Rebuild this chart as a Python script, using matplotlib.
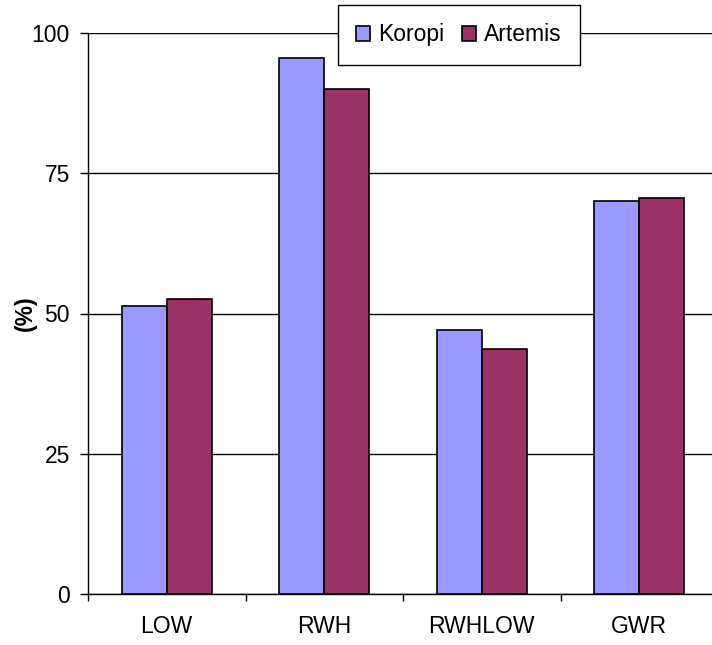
import matplotlib
matplotlib.use('Agg')
import numpy as np
from matplotlib import pyplot as plt

plt.rcParams['font.family'] = ['Liberation Sans', 'DejaVu Sans']

"""Data
"""
categories = ['LOW', 'RWH', 'RWHLOW', 'GWR']
koropi = [51.4, 95.6, 47.0, 70.1]
artemis = [52.5, 90.0, 43.6, 70.6]
y_ticks = [0, 25, 50, 75, 100]

FS = 16.5

"""Plot
"""
f = plt.figure(figsize=(7.12, 6.45), dpi=100)
ax = f.add_axes([88/712, 1 - 594/645, 630/712, 561/645])

x = np.arange(len(categories))
w = 0.286
ax.bar(x - w/2, koropi, w, color='#9999FF', edgecolor='black', linewidth=1.2,
       label='Koropi', zorder=3)
ax.bar(x + w/2, artemis, w, color='#993366', edgecolor='black', linewidth=1.2,
       label='Artemis', zorder=3)

ax.set_xlim(-0.5, len(categories) - 0.5)
ax.set_ylim(0, 100)
ax.set_yticks(y_ticks)
ax.yaxis.grid(True, color='black', linewidth=1)
ax.set_axisbelow(True)

# category boundaries get the ticks, names sit in between
ax.set_xticks(np.arange(len(categories)) - 0.5)
ax.set_xticklabels([])
ax.set_xticks(x, minor=True)
ax.set_xticklabels(categories, minor=True)
ax.tick_params(axis='x', which='minor', length=0, pad=15, labelsize=FS)
ax.tick_params(axis='x', which='major', length=5, width=1, direction='out')
ax.tick_params(axis='y', length=6, width=1, direction='out', labelsize=FS, pad=7)

for s in ['top', 'right']:
    ax.spines[s].set_visible(False)
ax.spines['left'].set_linewidth(1)
ax.spines['bottom'].set_linewidth(1)

ax.set_ylabel('(%)', fontsize=FS, fontweight='bold', va='center')
ax.yaxis.set_label_coords(-0.1, 0.5)

leg = f.legend(loc='upper center', bbox_to_anchor=(459/712, 1 - 5/645), ncol=2,
               fontsize=FS, frameon=True, fancybox=False, edgecolor='black',
               framealpha=1, handlelength=0.6, handleheight=0.6,
               handletextpad=0.35, columnspacing=0.8, borderpad=0.8,
               borderaxespad=0)
leg.get_frame().set_linewidth(1)

f.savefig('out.png', dpi=100)
